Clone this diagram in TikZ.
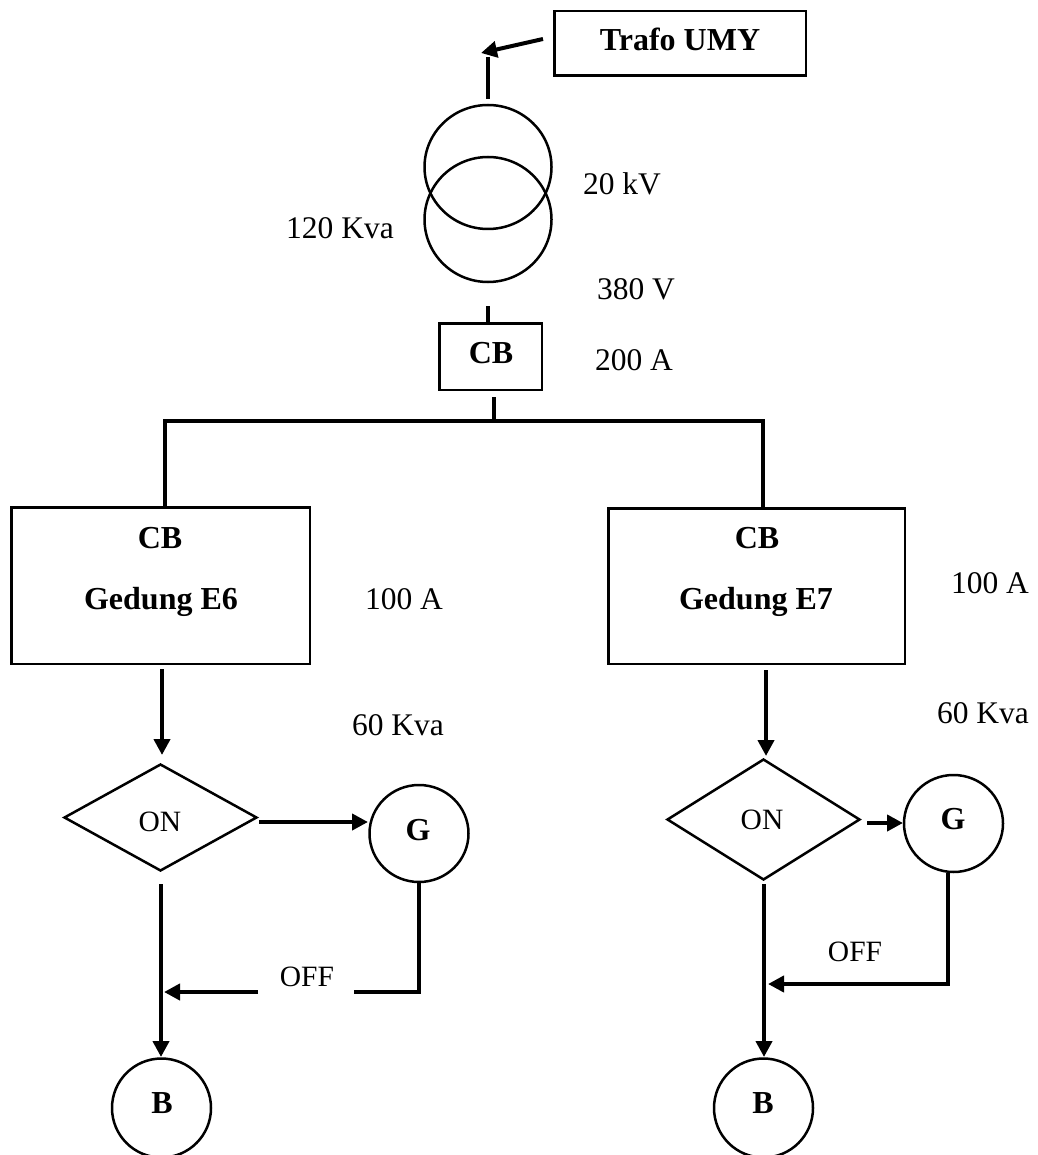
\documentclass[tikz,border=0pt]{standalone}
\usepackage{fontspec}
\setmainfont{Liberation Serif}
\usetikzlibrary{shapes.geometric,arrows.meta}
\tikzset{
 box/.style={draw,line width=2.5pt,inner sep=0pt},
 lbl/.style={inner sep=0pt,text height=21pt,text depth=0pt,font=\fontsize{31.5}{36}\selectfont},
 slbl/.style={lbl,font=\fontsize{29.5}{34}\selectfont},
 blbl/.style={lbl,font=\fontsize{32}{36}\selectfont\bfseries},
 circ/.style={draw,ellipse,line width=2.5pt,inner sep=0pt},
 dia/.style={draw,diamond,line width=2.5pt,inner sep=0pt},
 wire/.style={line width=4pt},
 arr/.style={line width=4pt,-{Triangle[length=16pt,width=16pt]}}
}
\begin{document}
\begin{tikzpicture}[x=1pt,y=-1pt]
\useasboundingbox (0,0) rectangle (1037,1155);
% boxes
\node[box,minimum width=251.5pt,minimum height=64.5pt] (trafo) at (680,43.5) {};
\node[blbl] (ttrafo) at (680,40) {Trafo UMY};
\node[circ,minimum width=127pt,minimum height=124pt] (t1) at (488,167) {};
\node[circ,minimum width=127pt,minimum height=125pt] (t2) at (488,219.5) {};
\node[box,minimum width=102.5pt,minimum height=66.5pt] (cb) at (490.5,356.5) {};
\node[blbl] (tcb) at (491,353) {CB};
\node[box,minimum width=298.5pt,minimum height=156.5pt] (e6) at (160.5,585.5) {};
\node[blbl] (tcb6) at (160,538) {CB};
\node[blbl] (te6) at (161,599) {Gedung E6};
\node[box,minimum width=296.5pt,minimum height=155.5pt] (e7) at (756.5,586) {};
\node[blbl] (tcb7) at (757,538) {CB};
\node[blbl] (te7) at (756,599) {Gedung E7};
\node[dia,minimum width=193pt,minimum height=107pt] (on1) at (160.5,817.5) {};
\node[slbl] (ton1) at (160,821) {ON};
\node[dia,minimum width=193pt,minimum height=121pt] (on2) at (763.5,819.5) {};
\node[slbl] (ton2) at (762,819) {ON};
\node[circ,minimum width=99pt,minimum height=97pt] (g1) at (419,833.5) {};
\node[blbl] (tg1) at (418,830) {G};
\node[circ,minimum width=99pt,minimum height=97pt] (g2) at (953.5,823.5) {};
\node[blbl] (tg2) at (953,819) {G};
\node[circ,minimum width=99pt,minimum height=99pt] (b1) at (161.5,1108) {};
\node[blbl] (tb1) at (162,1103) {B};
\node[circ,minimum width=99pt,minimum height=99pt] (b2) at (763.5,1108) {};
\node[blbl] (tb2) at (763,1103) {B};
% labels
\node[lbl] (l20) at (622,184) {20 kV};
\node[lbl] (l120) at (340,228) {120 Kva};
\node[lbl] (l380) at (636,289) {380 V};
\node[lbl] (l200) at (634,360) {200 A};
\node[lbl] (a1) at (404,599) {100 A};
\node[lbl] (a2) at (990,583) {100 A};
\node[lbl] (k1) at (398,725) {60 Kva};
\node[lbl] (k2) at (983,713) {60 Kva};
\node[slbl] (off1) at (307,976) {OFF};
\node[slbl] (off2) at (855,951) {OFF};
% free connector ends
\coordinate (c1) at (543,39);
\coordinate (c2) at (481,53);
\coordinate (c3) at (488,57);
\coordinate (c4) at (488,99);
\coordinate (c5) at (488,306);
\coordinate (c6) at (488,322);
\coordinate (c7) at (494,397);
\coordinate (bus) at (494,421);
\coordinate (busl) at (165,421);
\coordinate (busr) at (763,421);
\coordinate (d1) at (162,669);
\coordinate (d2) at (162,755);
\coordinate (d3) at (766,670);
\coordinate (d4) at (766,756);
\coordinate (h1) at (259,822);
\coordinate (h2) at (368,822);
\coordinate (h3) at (867,823);
\coordinate (h4) at (903,823);
\coordinate (v1) at (161,884);
\coordinate (v2) at (161,1057);
\coordinate (v3) at (764,884);
\coordinate (v4) at (764,1057);
\coordinate (r1) at (419,992);
\coordinate (r2) at (354,992);
\coordinate (r3) at (258,992);
\coordinate (j1) at (164,992);
\coordinate (r4) at (948,984);
\coordinate (j2) at (768,984);
% connectors
\draw[arr] (c1) -- (c2);
\draw[wire] (c3) -- (c4);
\draw[wire] (c5) -- (c6);
\draw[wire] (c7) -- (bus);
\draw[wire] (busl |- e6.north) -- (busl) -- (bus) -- (busr) -- (busr |- e7.north);
\draw[arr] (d1) -- (d2);
\draw[arr] (d3) -- (d4);
\draw[arr] (h1) -- (h2);
\draw[arr] (h3) -- (h4);
\draw[arr] (v1) -- (v2);
\draw[arr] (v3) -- (v4);
\draw[wire] (r1 |- g1.south) -- (r1) -- (r2);
\draw[arr] (r3) -- (j1);
\draw[arr] (r4 |- g2.south) -- (r4) -- (j2);
\end{tikzpicture}
\end{document}
